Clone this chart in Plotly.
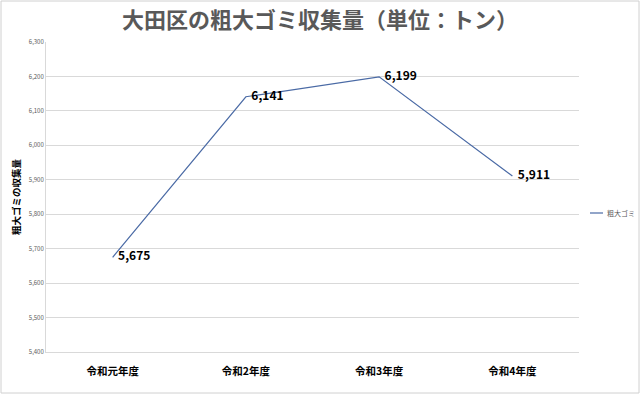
import plotly.graph_objects as go

categories = ["令和元年度", "令和2年度", "令和3年度", "令和4年度"]
values = [5675, 6141, 6199, 5911]
series_name = "粗大ゴミ"
title_text = "大田区の粗大ゴミ収集量（単位：トン）"
y_title = "粗大ゴミの収集量"
y_ticks = [5400, 5500, 5600, 5700, 5800, 5900, 6000, 6100, 6200, 6300]

W, H = 640, 394
L, R, T, B = 46, 61, 42, 42
pw, ph = W - L - R, H - T - B

FONT = "Noto Sans CJK JP, Noto Sans, sans-serif"
LINE_COLOR = "#4A6AA5"

fig = go.Figure()
fig.add_trace(go.Scatter(
    x=categories, y=values, mode="lines+text", name=series_name,
    line=dict(color=LINE_COLOR, width=1.2),
    text=["  " + f"{v:,}" for v in values],
    textposition="middle right",
    textfont=dict(family=FONT, size=12, color="#000000", weight="bold"),
    cliponaxis=False,
    showlegend=False,
))

# legend key (manual, to match the short Excel-style key)
lx0 = (590 - L) / pw
lx1 = (603 - L) / pw
ly = (H - B - 213) / ph

fig.update_layout(
    width=W, height=H,
    margin=dict(l=L, r=R, t=T, b=B, autoexpand=False),
    paper_bgcolor="white", plot_bgcolor="white",
    title=dict(text=title_text, x=0.5, xanchor="center", y=1 - 20 / H, yanchor="middle",
               font=dict(family=FONT, size=22, color="#595959", weight="bold")),
    showlegend=False,
    xaxis=dict(type="category", showgrid=False, showline=True, linecolor="#D9D9D9", linewidth=1,
               ticks="", ticklabelstandoff=9,
               tickfont=dict(family=FONT, size=10.5, color="#000000", weight="bold"),
               range=[-0.5, 3.5]),
    yaxis=dict(range=[5400, 6300], tickvals=y_ticks, ticktext=[f"{v:,}" for v in y_ticks],
               showgrid=True, gridcolor="#D9D9D9", gridwidth=1, zeroline=False,
               showline=True, linecolor="#D9D9D9", linewidth=1, ticks="",
               tickfont=dict(family=FONT, size=6, color="#595959"),
               title=dict(text=y_title, standoff=6,
                          font=dict(family=FONT, size=9.5, color="#000000", weight="bold"))),
    shapes=[
        dict(type="rect", xref="paper", yref="paper",
             x0=-(L - 1) / pw, x1=1 + (R - 1) / pw, y0=-(B - 1) / ph, y1=1 + (T - 1) / ph,
             line=dict(color="#D0D0D0", width=1), layer="below"),
        dict(type="line", xref="paper", yref="paper", x0=lx0, x1=lx1, y0=ly, y1=ly,
             line=dict(color=LINE_COLOR, width=1.2)),
    ],
    annotations=[dict(text=series_name, xref="paper", yref="paper", x=(605 - L) / pw, y=ly,
                      xanchor="left", yanchor="middle", showarrow=False,
                      font=dict(family=FONT, size=7, color="#595959"))],
)

fig.write_html("out.html")
